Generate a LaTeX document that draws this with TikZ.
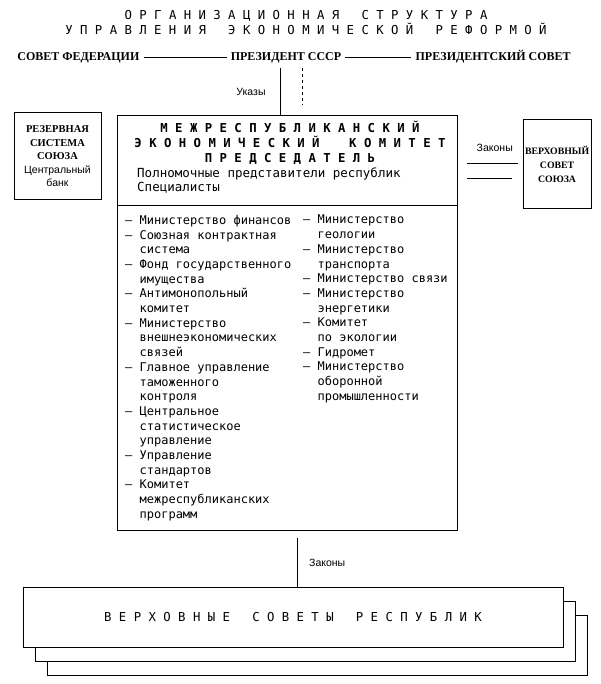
\documentclass[tikz,border=0pt]{standalone}
\usepackage{fontspec}
\setmainfont{Liberation Serif}
\setsansfont{Liberation Sans}
\newfontfamily\typewr{DejaVu Sans Mono}
\usetikzlibrary{positioning}
\usetikzlibrary{calc, shadows}
\newcommand{\cont}{\hphantom{– }}
\tikzset{%
	% Specifications for style of nodes:
	base/.style = {rectangle, draw=black, line width=1pt, outer sep=0pt, inner sep=2pt},
	chief/.style = {font=\bfseries\fontsize{12}{13}\selectfont, text height=7.9pt, text depth=0pt,
		inner xsep=4pt, inner ysep=2pt},
	bank/.style = {base, minimum width=87pt, minimum height=87pt, align=center,
		font=\bfseries\fontsize{10.5}{13.5}\selectfont},
	soviet/.style = {base, minimum width=68pt, minimum height=89pt, align=center,
		font=\bfseries\fontsize{9.8}{14}\selectfont},
	headbox/.style = {base, minimum width=340pt, minimum height=90pt, inner sep=0pt},
	listbox/.style = {base, minimum width=340pt, minimum height=324pt, inner sep=0pt},
	items/.style = {anchor=north west, align=left, inner sep=0pt,
		font=\typewr\fontsize{12}{14.7}\selectfont},
	spaced/.style = {inner sep=0pt, align=center, font=\typewr\fontsize{12.3}{15}\selectfont},
	lab/.style = {font=\sffamily\fontsize{10.5}{12}\selectfont, inner sep=1pt},
	repbox/.style = {base, fill=white, minimum width=540pt, minimum height=60pt,
		double copy shadow={shadow xshift=12pt, shadow yshift=-14pt}}
}
\begin{document}
\begin{tikzpicture}[x=1pt, y=-1pt]
	\useasboundingbox (0,0) rectangle (600,684);
	\node (title) [spaced] at (306,23) {О Р Г А Н И З А Ц И О Н Н А Я~~~С Т Р У К Т У Р А\\
		У П Р А В Л Е Н И Я~~~Э К О Н О М И Ч Е С К О Й~~~Р Е Ф О Р М О Й};
	\node (pres) [chief] at (286,57) {ПРЕЗИДЕНТ СССР};
	\node (fed) [chief, left=83pt of pres] {СОВЕТ ФЕДЕРАЦИИ};
	\node (prescouncil) [chief, right=66pt of pres] {ПРЕЗИДЕНТСКИЙ СОВЕТ};
	\draw (fed) -- (pres);
	\draw (pres) -- (prescouncil);
	\node (head) [headbox] at (287,161) {};
	\node (headtitle) [spaced, anchor=north, font=\typewr\bfseries\fontsize{12.3}{15}\selectfont]
		at ($(head.north)+(3,5)$) {М Е Ж Р Е С П У Б Л И К А Н С К И Й\\
		Э К О Н О М И Ч Е С К И Й~~~~К О М И Т Е Т\\
		П Р Е Д С Е Д А Т Е Л Ь};
	\node (envoys) [items, font=\typewr\fontsize{12.5}{14}\selectfont] at ($(head.north west)+(20,52)$)
		{Полномочные представители республик\\Специалисты};
	\node (list) [listbox, below=0pt of head] {};
	\node (leftcol) [items] at ($(list.north west)+(8,9)$) {– Министерство финансов\\
		– Союзная контрактная\\ \cont система\\
		– Фонд государственного\\ \cont имущества\\
		– Антимонопольный\\ \cont комитет\\
		– Министерство\\ \cont внешнеэкономических\\ \cont связей\\
		– Главное управление\\ \cont таможенного\\ \cont контроля\\
		– Центральное\\ \cont статистическое\\ \cont управление\\
		– Управление\\ \cont стандартов\\
		– Комитет\\ \cont межреспубликанских\\ \cont программ};
	\node (rightcol) [items] at ($(list.north west)+(186,9)$) {– Министерство\\ \cont геологии\\
		– Министерство\\ \cont транспорта\\
		– Министерство связи\\
		– Министерство\\ \cont энергетики\\
		– Комитет\\ \cont по экологии\\
		– Гидромет\\
		– Министерство\\ \cont оборонной\\ \cont промышленности};
	\node (bank) [bank, left=16pt of head, yshift=4.5pt] {РЕЗЕРВНАЯ\\СИСТЕМА\\СОЮЗА\\
		{\sffamily\mdseries Центральный}\\{\sffamily\mdseries банк}};
	\node (council) [soviet, right=66pt of head, yshift=-3.5pt] {ВЕРХОВНЫЙ\\СОВЕТ\\СОЮЗА};
	\node (lawsup) [lab, left=9pt of council, yshift=16.5pt] {Законы};
	\draw ($(council.west)+(-56,-1.5)$) -- ($(council.west)+(-5,-1.5)$);
	\draw ($(council.west)+(-56,13.5)$) -- ($(council.west)+(-11,13.5)$);
	\draw[line width=0.9pt] ([xshift=-6pt, yshift=-5pt]pres.south) -- node (decrees) [lab, left=13pt] {Указы}
		([xshift=-6pt]pres.south |- head.north);
	\draw[dash pattern=on 2.5pt off 3.5pt] ([xshift=16pt, yshift=-5pt]pres.south) -- ++(0,37);
	\node (republics) [repbox] at (293,617) {\typewr\fontsize{12.3}{15}\selectfont
		В Е Р Х О В Н Ы Е~~~С О В Е Т Ы~~~Р Е С П У Б Л И К};
	\draw ([xshift=10pt, yshift=-8pt]list.south) -- node (lawsdown) [lab, right=11pt] {Законы}
		([xshift=10pt]list.south |- republics.north);
\end{tikzpicture}
\end{document}
